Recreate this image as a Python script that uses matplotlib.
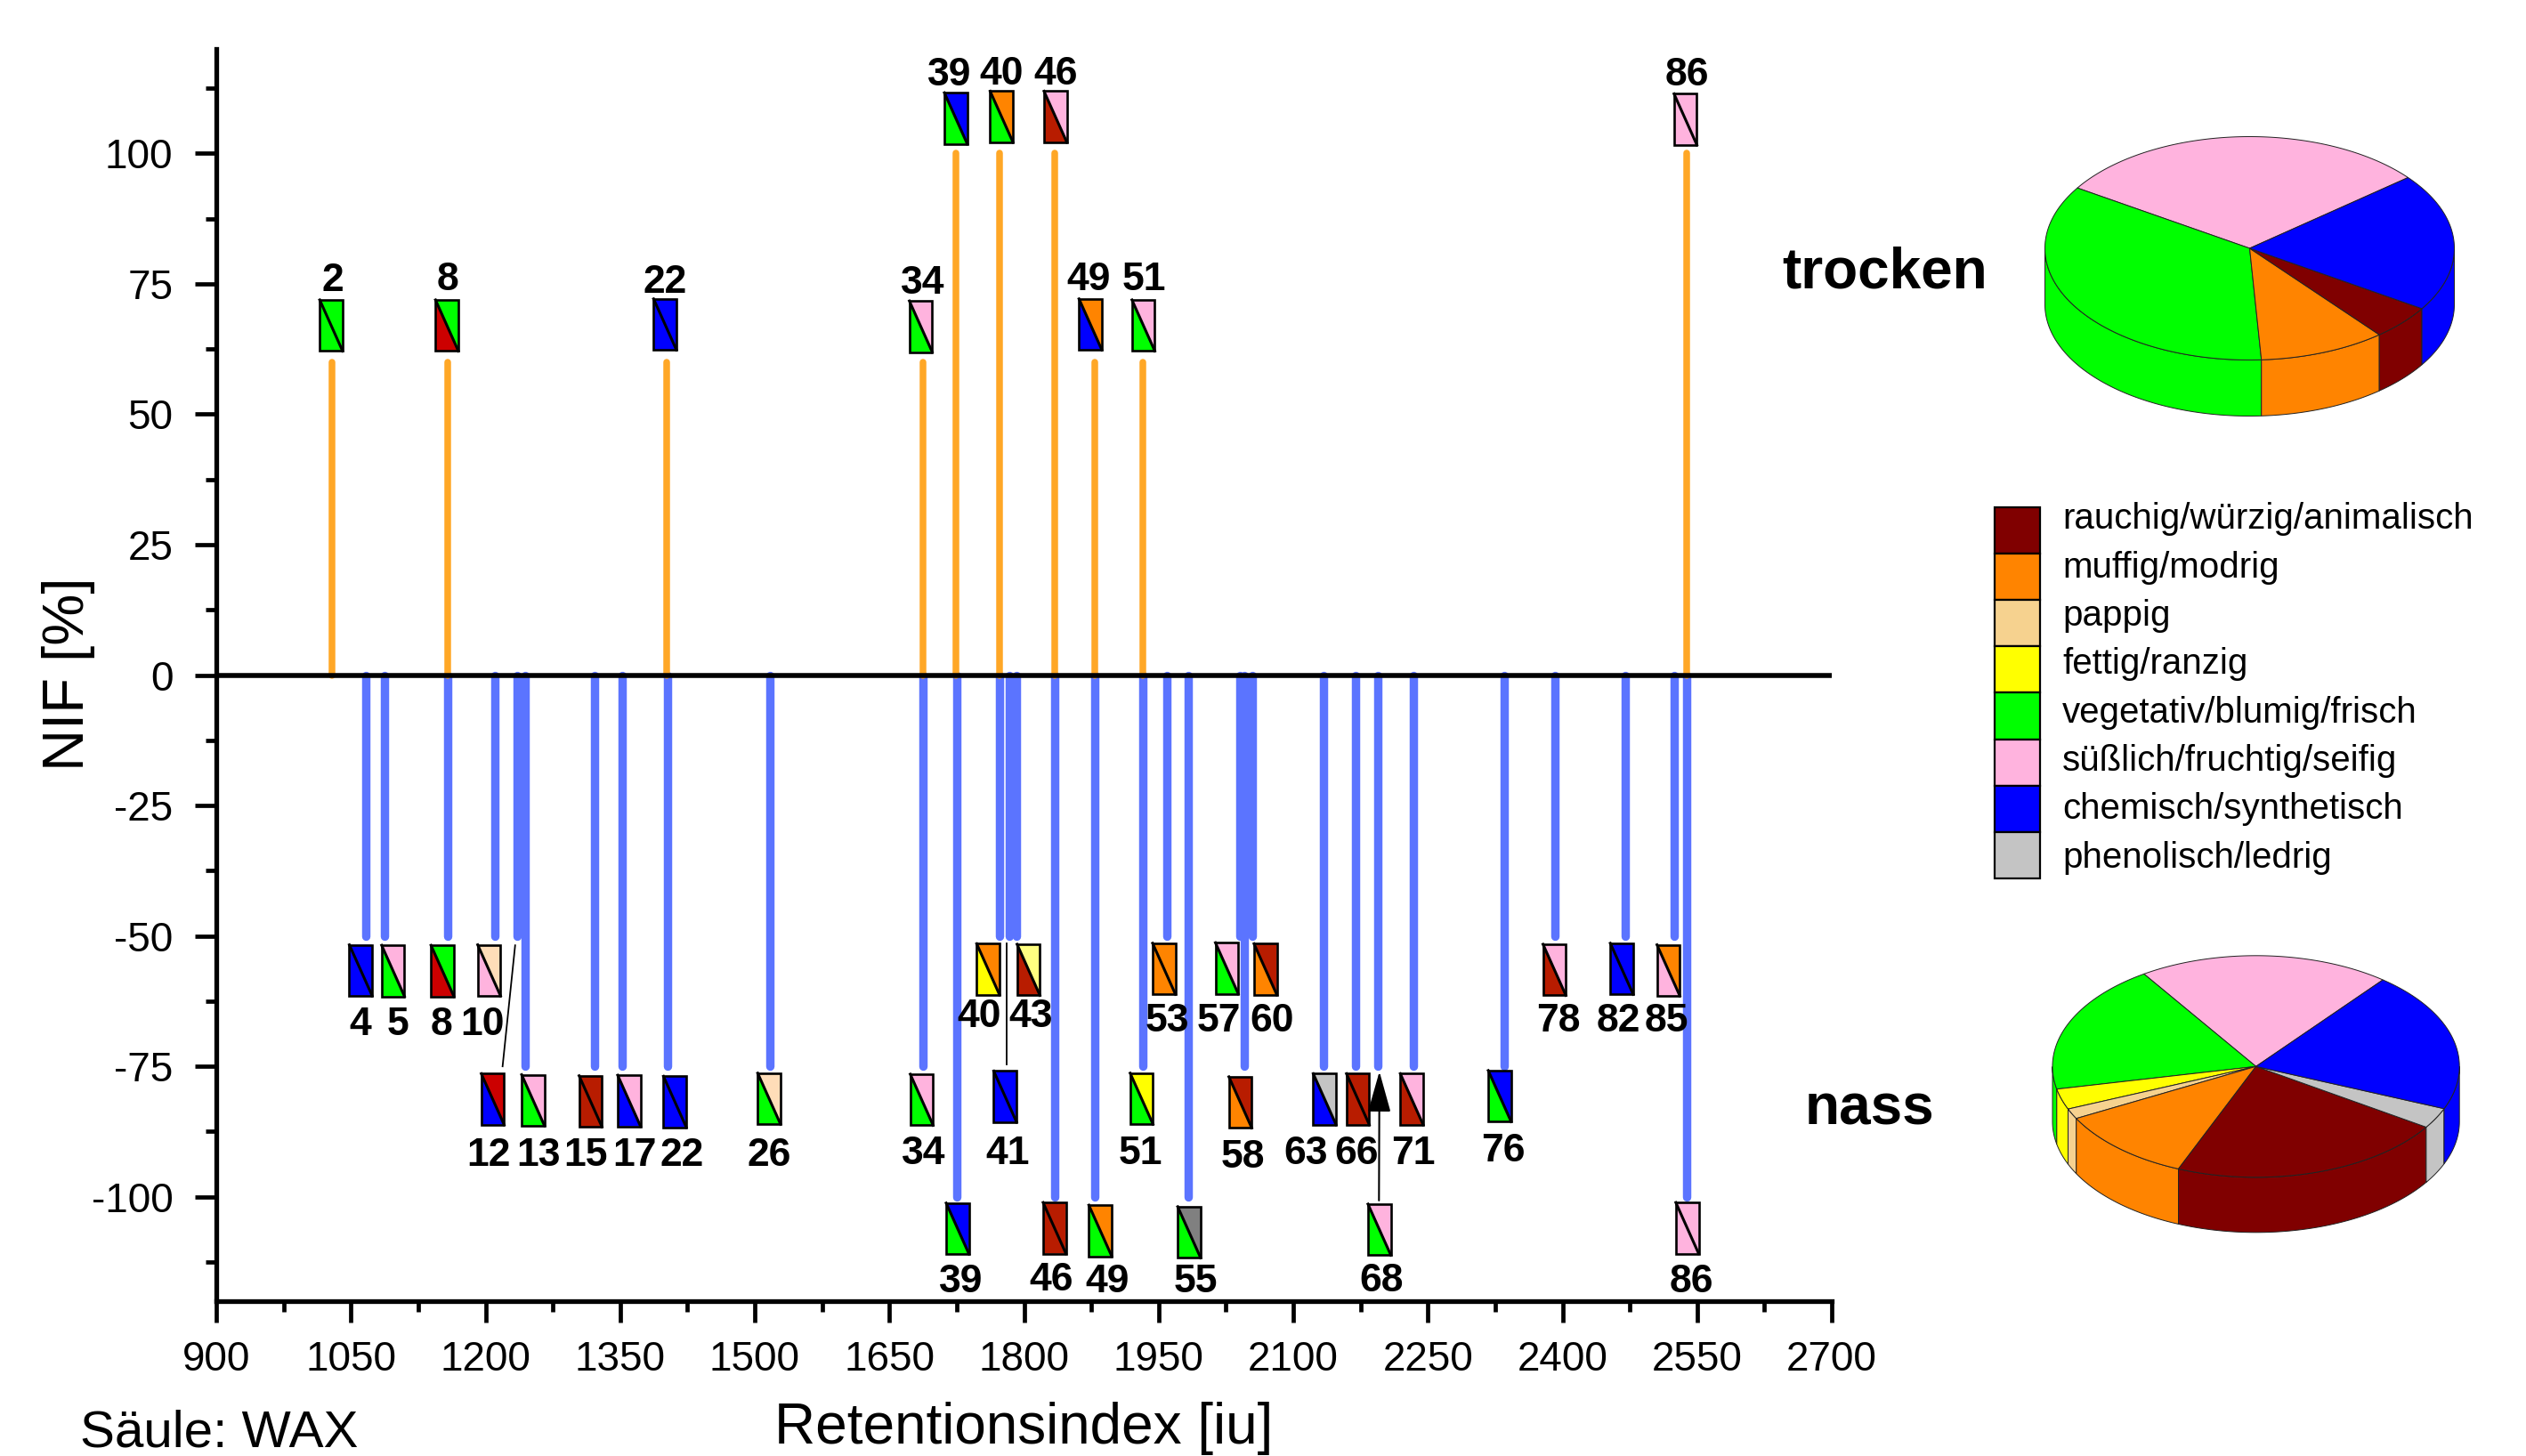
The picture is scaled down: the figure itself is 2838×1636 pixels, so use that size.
import numpy as np
import matplotlib
matplotlib.use("Agg")
import matplotlib.pyplot as plt
from matplotlib.patches import Polygon, Rectangle

plt.rcParams['font.family'] = ['Liberation Sans', 'DejaVu Sans']
plt.rcParams['axes.unicode_minus'] = False

# colours
MAROON = "#800000"
DKRED = "#B81C00"
RED = "#CC0000"
ORANGE = "#FF8400"
PEACH = "#F6D28F"
LPEACH = "#FFDDB8"
YELLOW = "#FFFF00"
LYELLOW = "#FFFF80"
GREEN = "#00FF00"
PINK = "#FFB3DE"
BLUE = "#0000FF"
GREY = "#C4C4C4"
DGREY = "#808080"

# legend and pies
legend_labels = ["rauchig/würzig/animalisch", "muffig/modrig", "pappig", "fettig/ranzig",
                 "vegetativ/blumig/frisch", "süßlich/fruchtig/seifig", "chemisch/synthetisch",
                 "phenolisch/ledrig"]
legend_colors = [MAROON, ORANGE, PEACH, YELLOW, GREEN, PINK, BLUE, GREY]
pie_dry = [5, 10, 0, 0, 35, 30, 20, 0]
pie_wet = [22, 11, 1.5, 3, 19, 20, 20.5, 3]

# dry peaks (upper side)
dry_no = [2, 8, 22, 34, 39, 40, 46, 49, 51, 86]
dry_ri = [1029, 1158, 1402, 1687, 1724, 1773, 1834, 1879, 1932, 2538]
dry_nif = [60, 60, 60, 60, 100, 100, 100, 60, 60, 100]
dry_low = [GREEN, RED, BLUE, GREEN, GREEN, GREEN, DKRED, BLUE, GREEN, PINK]
dry_up = [GREEN, GREEN, BLUE, PINK, BLUE, ORANGE, PINK, ORANGE, PINK, PINK]
# where box / number sit
dry_box_x = [1028, 1157, 1400, 1685, 1724, 1775, 1835, 1874, 1933, 2537]
dry_box_y = [67, 67, 67.2, 66.8, 106.7, 107, 107, 67.2, 67, 106.5]
dry_txt_x = [1030, 1158, 1400, 1687, 1717, 1775, 1835, 1872, 1934, 2539]
dry_txt_y = [75.5, 75.7, 75.2, 75, 114.9, 115.2, 115.2, 75.7, 75.8, 114.9]

# wet peaks (lower side)
wet_no = [4, 5, 8, 10, 12, 13, 15, 17, 22, 26, 34, 39, 40, 41, 43, 46, 49, 51, 53, 55,
          57, 58, 60, 63, 66, 68, 71, 76, 78, 82, 85, 86]
wet_ri = [1067, 1087, 1158, 1210, 1235, 1244, 1321, 1352, 1403, 1517, 1687, 1725, 1773, 1784, 1792, 1834,
          1879, 1932, 1959, 1983, 2040, 2045, 2054, 2134, 2169, 2194, 2234, 2335, 2392, 2470, 2524, 2538]
wet_nif = [-50, -50, -50, -50, -50, -75, -75, -75, -75, -75, -75, -100, -50, -50, -50, -100,
           -100, -75, -50, -100, -50, -75, -50, -75, -75, -75, -75, -75, -50, -50, -50, -100]
wet_low = [BLUE, GREEN, RED, PINK, BLUE, GREEN, DKRED, BLUE, BLUE, GREEN, GREEN, GREEN, YELLOW, BLUE, DKRED, DKRED,
           GREEN, GREEN, ORANGE, GREEN, GREEN, ORANGE, ORANGE, BLUE, DKRED, GREEN, DKRED, GREEN, DKRED, BLUE, PINK, PINK]
wet_up = [BLUE, PINK, GREEN, LPEACH, RED, PINK, DKRED, PINK, BLUE, LPEACH, PINK, BLUE, ORANGE, BLUE, LYELLOW, DKRED,
          ORANGE, YELLOW, ORANGE, DGREY, PINK, DKRED, DKRED, GREY, DKRED, PINK, PINK, BLUE, PINK, BLUE, ORANGE, PINK]
wet_box_x = [1061, 1097, 1152, 1204, 1208, 1253, 1317, 1360, 1411, 1516, 1686, 1726, 1760, 1779, 1805, 1834,
             1885, 1931, 1956, 1984, 2026, 2041, 2069, 2135, 2172, 2196, 2232, 2330, 2391, 2466, 2518, 2539]
wet_box_y = [-56.6, -56.7, -56.7, -56.6, -81.3, -81.5, -81.7, -81.6, -81.8, -81.2, -81.4, -106.1, -56.4, -80.8, -56.5, -106,
             -106.5, -81.2, -56.3, -106.8, -56.2, -81.9, -56.4, -81.3, -81.3, -106.3, -81.3, -80.7, -56.5, -56.3, -56.6, -106]
wet_txt_x = [1060, 1102, 1151, 1197, 1203, 1259, 1312, 1366, 1419, 1516, 1688, 1730, 1750, 1782, 1808, 1830,
             1893, 1930, 1960, 1991, 2017, 2044, 2076, 2114, 2171, 2198, 2234, 2334, 2395, 2462, 2516, 2544]
wet_txt_y = [-67.1, -67.1, -67.1, -67.1, -92.1, -92.1, -92.1, -92.1, -92.1, -92.1, -91.7, -116.3, -65.5, -91.7, -65.5, -116,
             -116.3, -91.7, -66.4, -116.3, -66.4, -92.5, -66.4, -91.7, -91.7, -116.2, -91.7, -91.2, -66.4, -66.4, -66.4, -116.3]

fig = plt.figure(figsize=(28.38, 16.36), dpi=100, facecolor="white")
ax = fig.add_axes([243 / 2838, 1 - 1462 / 1636, (2058 - 243) / 2838, (1462 - 55) / 1636])
ax.set_xlim(900, 2700)
ax.set_ylim(-120, 120)

# stems
ax.vlines(wet_ri, 0, wet_nif, color="#5B74FF", lw=6.8, capstyle="round", zorder=2)
ax.vlines(dry_ri, 0, dry_nif, color="#FFA726", lw=5.4, capstyle="round", zorder=2)
ax.axhline(0, color="black", lw=4, zorder=3)

# odour boxes with a diagonal
BOX_W, BOX_H = 25.5, 9.8


def odour_box(x, y, low, up):
    x0, x1 = x - BOX_W / 2, x + BOX_W / 2
    y0, y1 = y - BOX_H / 2, y + BOX_H / 2
    ax.add_patch(Polygon([(x0, y1), (x1, y0), (x0, y0)], fc=low, ec="none", zorder=4))
    ax.add_patch(Polygon([(x0, y1), (x1, y0), (x1, y1)], fc=up, ec="none", zorder=4))
    ax.add_patch(Rectangle((x0, y0), BOX_W, BOX_H, fc="none", ec="black", lw=1.9, zorder=5))
    ax.plot([x0, x1], [y1, y0], color="black", lw=2.2, zorder=5)


for i in range(len(dry_no)):
    odour_box(dry_box_x[i], dry_box_y[i], dry_low[i], dry_up[i])
    ax.text(dry_txt_x[i], dry_txt_y[i], str(dry_no[i]), fontsize=32, fontweight="bold",
            ha="center", va="center", zorder=6)
for i in range(len(wet_no)):
    odour_box(wet_box_x[i], wet_box_y[i], wet_low[i], wet_up[i])
    ax.text(wet_txt_x[i], wet_txt_y[i], str(wet_no[i]), fontsize=32, fontweight="bold",
            ha="center", va="center", zorder=6)

# leader lines
ax.plot([1233, 1219], [-51.8, -75], color="black", lw=1.3, zorder=5)
ax.plot([1780.5, 1780.5], [-51.5, -74.6], color="black", lw=1.3, zorder=5)
ax.annotate("", xy=(2196, -76), xytext=(2195.5, -100.7), zorder=6,
            arrowprops=dict(arrowstyle="-|>,head_length=1.6,head_width=0.45", color="black", lw=1.5,
                            shrinkA=0, shrinkB=0, mutation_scale=18))

# axes look
for s in ["top", "right"]:
    ax.spines[s].set_visible(False)
for s in ["left", "bottom"]:
    ax.spines[s].set_linewidth(3.8)
ax.set_xticks(np.arange(900, 2701, 150))
ax.set_xticks(np.arange(975, 2700, 150), minor=True)
ax.set_yticks(np.arange(-100, 101, 25))
ax.set_yticks(np.arange(-112.5, 120, 25), minor=True)
ax.tick_params(which="major", length=17, width=3.4, labelsize=33)
ax.tick_params(axis="x", which="major", pad=15)
ax.tick_params(axis="y", which="major", pad=18)
ax.tick_params(which="minor", length=8.5, width=3.4)
ax.patch.set_alpha(0)

# overlay in figure pixels for legend, pies and loose text
ov2 = fig.add_axes([0, 0, 1, 1], zorder=5)
ov2.set_xlim(0, 2838)
ov2.set_ylim(1636, 0)
ov2.axis("off")


def pie3d(a, values, colors, cx, cy, rx, ry, depth, start):
    total = sum(values)
    ang = start
    walls = []
    tops = []
    for v, c in zip(values, colors):
        if v == 0:
            continue
        end = ang + v / total * 360
        t = np.radians(np.linspace(ang, end, 100))
        tops.append((t, c))
        s = t[np.sin(t) < 0]
        if len(s):
            walls.append((s, c))
        ang = end
    for s, c in walls:
        x = cx + rx * np.cos(s)
        y = cy - ry * np.sin(s)
        a.add_patch(Polygon(np.r_[np.c_[x, y], np.c_[x[::-1], y[::-1] + depth]], closed=True,
                            fc=c, ec="#222222", lw=0.7, zorder=1))
    for t, c in tops:
        x = cx + rx * np.cos(t)
        y = cy - ry * np.sin(t)
        a.add_patch(Polygon(np.r_[[[cx, cy]], np.c_[x, y]], closed=True, fc=c, ec="#222222", lw=0.7, zorder=2))


# pies, counter-clockwise from the pink/blue border
order = [5, 4, 3, 2, 1, 0, 7, 6]
pie3d(ov2, [pie_dry[i] for i in order], [legend_colors[i] for i in order], 2527.5, 279, 230, 125.5, 63, 39.3)
pie3d(ov2, [pie_wet[i] for i in order], [legend_colors[i] for i in order], 2534.6, 1198.3, 228.6, 124.5, 62, 51.4)

# legend
row_h = 52.1
for i, (lab, col) in enumerate(zip(legend_labels, legend_colors)):
    y0 = 570 + i * row_h
    ov2.add_patch(Rectangle((2241, y0), 51, row_h, fc=col, ec="black", lw=1.6))
    ov2.text(2317, 594.5 + i * 54.3, lab, fontsize=29, va="baseline", ha="left")

ov2.text(2118, 307, "trocken", fontsize=46, fontweight="bold", ha="center", va="center")
ov2.text(2100, 1246, "nass", fontsize=46, fontweight="bold", ha="center", va="center")
ov2.text(77, 757, "NIF [%]", fontsize=47, rotation=90, ha="center", va="center")
ov2.text(1150, 1605, "Retentionsindex [iu]", fontsize=46, ha="center", va="center")
ov2.text(246, 1610, "Säule: WAX", fontsize=42, ha="center", va="center")

fig.savefig("out.png", dpi=100, facecolor="white")
